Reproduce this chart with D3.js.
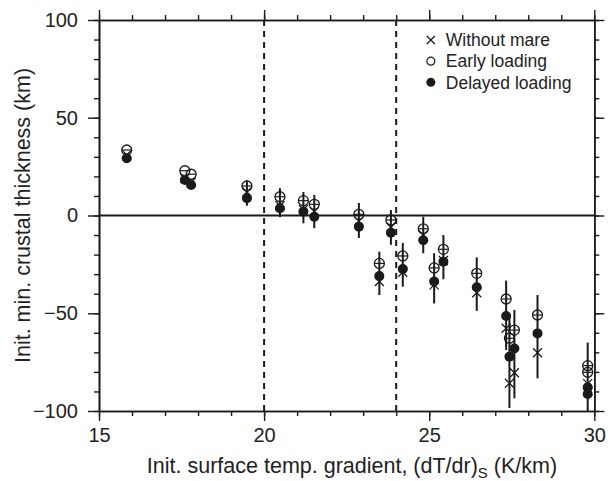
<!DOCTYPE html>
<html>
<head>
<meta charset="utf-8">
<script src="https://cdn.jsdelivr.net/npm/d3@7"></script>
<style>
  html, body { margin: 0; padding: 0; background: #fff; }
  svg { display: block; }
  text { font-family: "Liberation Sans", Arial, Helvetica, sans-serif; fill: #222; }
</style>
</head>
<body>
<svg id="chart" width="614" height="481"></svg>
<script>
// Initial surface temperature gradient (K/km) for each model run
const gradient = [15.84, 17.6, 17.79, 19.48, 20.48, 21.19, 21.52, 22.87, 23.84, 23.49, 24.2,
                  24.82, 25.15, 25.43, 26.44, 27.33, 27.43, 27.58, 28.28, 29.8, 29.8];
// Initial minimum crustal thickness (km) per scenario
const withoutMare    = [31, 19, 17, 12, 5, 3, 2, -3, -6, -33.8, -29,
                        -10, -35.5, -23, -39.5, -57.7, -85.8, -80.4, -70.2, -86, -90];
const earlyLoading   = [33.5, 22.9, 21.1, 15.1, 9.6, 7.6, 5.7, 0.6, -2.3, -24.5, -20.7,
                        -6.8, -26.8, -17.3, -29.6, -42.7, -62.8, -58.6, -50.9, -76.8, -80.2];
const delayedLoading = [29.3, 18.2, 15.6, 8.8, 3.7, 2, -0.6, -5.7, -8.8, -31, -27.4,
                        -12.7, -33.8, -23.6, -36.7, -51.4, -72.2, -68, -60.3, -87.9, -91.3];
// Uncertainty range (km)
const errHigh = [null, null, null, 18, 14, 12, 10.5, 6.4, 2.8, -18.5, -14,
                 -0.6, -19.3, -10, -21.4, -33.3, -52.4, -48.3, -40.7, -65, null];
const errLow  = [null, null, null, 5, -0.8, -4, -6.5, -11.5, -15, -40.7, -36.4,
                 -19.3, -45, -32.6, -48.8, -68.8, -98.5, -93.5, -83.3, -100, null];

const xDomain = [15, 30];
const yDomain = [-100, 100];
const xMajorTicks = [15, 20, 25, 30];
const yMajorTicks = [-100, -50, 0, 50, 100];
const referenceGradients = [20, 24];
const legendLabels = ["Without mare", "Early loading", "Delayed loading"];

const W = 614, H = 481;
const margin = { top: 20, right: 19.7, bottom: 70, left: 99 };
const iw = W - margin.left - margin.right;
const ih = H - margin.top - margin.bottom;

const svg = d3.select("#chart");
const g = svg.append("g").attr("transform", `translate(${margin.left},${margin.top})`);

const x = d3.scaleLinear().domain(xDomain).range([0, iw]);
const y = d3.scaleLinear().domain(yDomain).range([ih, 0]);

const ink = "#1a1a1a";
const xMinor = d3.range(15, 30.001, 1);
const yMinor = d3.range(-100, 100.001, 10);
const fmt = d => (d < 0 ? "\u2212" + Math.abs(d) : String(d));

function styleAxis(sel) {
  sel.select(".domain").attr("stroke", ink).attr("stroke-width", 1.6);
  sel.selectAll(".tick line").attr("stroke", ink).attr("stroke-width", 1.4);
  sel.selectAll(".tick text").attr("font-size", 20).attr("fill", "#222");
}

// minor ticks (all four sides, outward)
g.append("g").attr("transform", `translate(0,${ih})`)
  .call(d3.axisBottom(x).tickValues(xMinor).tickSize(5).tickSizeOuter(0).tickFormat(""))
  .call(styleAxis);
g.append("g")
  .call(d3.axisTop(x).tickValues(xMinor).tickSize(5).tickSizeOuter(0).tickFormat(""))
  .call(styleAxis);
g.append("g")
  .call(d3.axisLeft(y).tickValues(yMinor).tickSize(5).tickSizeOuter(0).tickFormat(""))
  .call(styleAxis);
g.append("g").attr("transform", `translate(${iw},0)`)
  .call(d3.axisRight(y).tickValues(yMinor).tickSize(5).tickSizeOuter(0).tickFormat(""))
  .call(styleAxis);

// major ticks
g.append("g").attr("transform", `translate(0,${ih})`)
  .call(d3.axisBottom(x).tickValues(xMajorTicks).tickSize(10).tickSizeOuter(0).tickPadding(7).tickFormat(fmt))
  .call(styleAxis);
g.append("g")
  .call(d3.axisTop(x).tickValues(xMajorTicks).tickSize(10).tickSizeOuter(0).tickFormat(""))
  .call(styleAxis);
g.append("g")
  .call(d3.axisLeft(y).tickValues(yMajorTicks).tickSize(11).tickSizeOuter(0).tickPadding(10).tickFormat(fmt))
  .call(styleAxis);
g.append("g").attr("transform", `translate(${iw},0)`)
  .call(d3.axisRight(y).tickValues(yMajorTicks).tickSize(10).tickSizeOuter(0).tickFormat(""))
  .call(styleAxis);

// zero line
g.append("line")
  .attr("x1", 0).attr("x2", iw).attr("y1", y(0)).attr("y2", y(0))
  .attr("stroke", ink).attr("stroke-width", 2.2);

// reference gradients
g.selectAll(".ref").data(referenceGradients).join("line")
  .attr("x1", d => x(d)).attr("x2", d => x(d))
  .attr("y1", 0).attr("y2", ih)
  .attr("stroke", ink).attr("stroke-width", 2).attr("stroke-dasharray", "6,5");

const idx = d3.range(gradient.length);

// error bars
g.selectAll(".err").data(idx.filter(i => errLow[i] !== null)).join("line")
  .attr("x1", i => x(gradient[i])).attr("x2", i => x(gradient[i]))
  .attr("y1", i => y(errHigh[i])).attr("y2", i => y(errLow[i]))
  .attr("stroke", ink).attr("stroke-width", 2);

const cross = (sel, cx, cy, s) => {
  sel.append("path")
    .attr("d", `M${cx - s},${cy - s}L${cx + s},${cy + s}M${cx - s},${cy + s}L${cx + s},${cy - s}`)
    .attr("stroke", ink).attr("stroke-width", 1.3).attr("fill", "none");
};

// without mare: crosses
const gx = g.append("g");
idx.forEach(i => cross(gx, x(gradient[i]), y(withoutMare[i]), 4.5));

// early loading: open circles
const ge = g.append("g");
idx.forEach(i => {
  const cx = x(gradient[i]), cy = y(earlyLoading[i]);
  ge.append("circle").attr("cx", cx).attr("cy", cy).attr("r", 5)
    .attr("fill", "none").attr("stroke", ink).attr("stroke-width", 1.3);
  ge.append("line").attr("x1", cx - 5).attr("x2", cx + 5).attr("y1", cy).attr("y2", cy)
    .attr("stroke", ink).attr("stroke-width", 1.2);
});

// delayed loading: filled circles
g.append("g").selectAll("circle").data(idx).join("circle")
  .attr("cx", i => x(gradient[i])).attr("cy", i => y(delayedLoading[i])).attr("r", 5)
  .attr("fill", ink);

// legend
const lg = g.append("g").attr("transform", `translate(${x(25.05)},${y(89.8)})`);
legendLabels.forEach((lab, k) => {
  const row = lg.append("g").attr("transform", `translate(0,${k * 21.2})`);
  if (k === 0) cross(row, 0, 0, 4);
  if (k === 1) row.append("circle").attr("r", 4).attr("fill", "none").attr("stroke", ink).attr("stroke-width", 1.2);
  if (k === 2) row.append("circle").attr("r", 4.5).attr("fill", ink);
  row.append("text").attr("x", 15).attr("y", 0).attr("dy", "0.36em")
    .attr("font-size", 17.5).text(lab);
});

// axis titles
const xt = svg.append("text")
  .attr("x", 352).attr("y", 473)
  .attr("text-anchor", "middle").attr("font-size", 21.5);
xt.append("tspan").text("Init. surface temp. gradient, (dT/dr)");
xt.append("tspan").attr("font-size", 15).attr("dy", 5).text("S");
xt.append("tspan").attr("dy", -5).text(" (K/km)");

svg.append("text")
  .attr("transform", `translate(30,${margin.top + ih / 2}) rotate(-90)`)
  .attr("text-anchor", "middle").attr("font-size", 21.5)
  .text("Init. min. crustal thickness (km)");
</script>
</body>
</html>
